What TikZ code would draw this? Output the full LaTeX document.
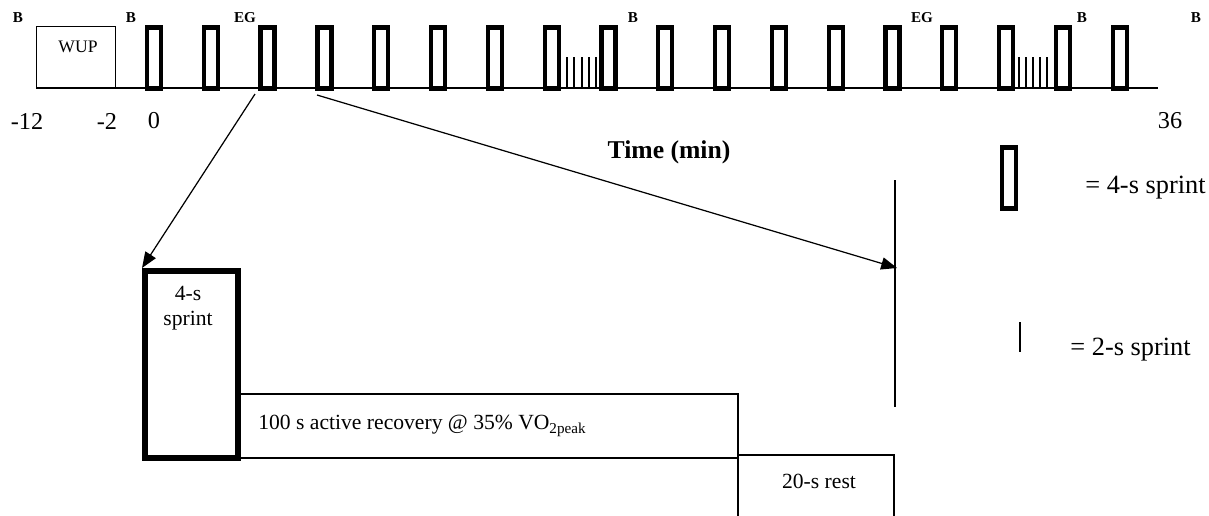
\documentclass[tikz,border=0pt]{standalone}
\usepackage{fontspec}
\setmainfont{Liberation Serif}
\usetikzlibrary{arrows.meta}

\begin{document}
\begin{tikzpicture}[x=0.02cm,y=-0.02cm,
    sprint/.style={rectangle,draw,line width=2.4pt,minimum width=0.28cm,minimum height=1.22cm,inner sep=0pt},
    short/.style={line width=0.6pt},
    thin/.style={line width=0.7pt},
    lbl/.style={font=\fontsize{8.6}{9}\selectfont\bfseries,inner sep=0pt},
    num/.style={font=\fontsize{13.8}{15}\selectfont,inner sep=0pt},
    key/.style={font=\fontsize{15}{16}\selectfont,inner sep=0pt},
    txt/.style={font=\fontsize{12.3}{13}\selectfont,inner sep=0pt},
    arr/.style={-{Triangle[length=9pt,width=7pt]},line width=0.7pt}]
\useasboundingbox (0,0) rectangle (1209,515);
% time line
\coordinate (t0) at (36,88);
\coordinate (t1) at (1158,88);
\draw[thin] (t0) -- (t1);
\node[draw,thin,rectangle,minimum width=1.58cm,minimum height=1.22cm,inner sep=0pt,anchor=south west] (wup) at (36,88) {};
\node[font=\fontsize{10}{11}\selectfont,inner sep=0pt] (wuptxt) at (78,47) {WUP};
\foreach \i in {0,...,17}
  \node[sprint,fill=white] (s\i) at (154+56.8*\i,58) {};
% 2-s sprints
\foreach \x in {567,574,582,589,596,1019,1026,1033,1040,1047}
  \draw[short] (\x,88) -- (\x,57);
% labels over the time line
\node[lbl] (b1) at (18,18) {B};
\node[lbl] (b2) at (131,18) {B};
\node[lbl] (eg1) at (245,18) {EG};
\node[lbl] (b3) at (633,18) {B};
\node[lbl] (eg2) at (922,18) {EG};
\node[lbl] (b4) at (1082,18) {B};
\node[lbl] (b5) at (1196,18) {B};
\node[num] (n1) at (27,121) {-12};
\node[num] (n2) at (107,121) {-2};
\node[num] (n3) at (154,121) {0};
\node[num] (n4) at (1170,121) {36};
\node[font=\fontsize{14.6}{16}\selectfont\bfseries,inner sep=0pt] (time) at (669,152) {Time (min)};
% one sprint + recovery
\node[rectangle,draw,line width=3.4pt,minimum width=1.86cm,minimum height=3.74cm,inner sep=0pt,anchor=north west] (big) at (142,268) {};
\node[txt,align=center] (bigtxt) at (188,308) {4-s\\[1pt]sprint};
\draw[thin] (big.east |- 0,394) -- (738,394) -- (738,458) -- (big.east |- 0,458);
\node[txt,anchor=west] (rec) at (258,426) {100 s active recovery @ 35\% VO\textsubscript{2peak}};
\draw[thin] (738,520) -- (738,455) -- (894,455) -- (894,520);
\node[txt] (rest) at (819,481) {20-s rest};
\coordinate (vtop) at (895,180);
\coordinate (vbot) at (895,407);
\coordinate (vmid) at (897,268);
\draw[thin] (vtop) -- (vbot);
% arrows
\coordinate (a1) at (255,94);
\coordinate (a2) at (317,95);
\draw[arr] (a1) -- (big.north west);
\draw[arr] (a2) -- (vmid);
% legend
\node[sprint] (key1) at (1009,178) {};
\node[key,anchor=west] (key1txt) at (1085,188) {= 4-s sprint};
\coordinate (k2a) at (1020,322);
\coordinate (k2b) at (1020,352);
\draw[short] (k2a) -- (k2b);
\node[key,anchor=west] (key2txt) at (1070,350) {= 2-s sprint};
\end{tikzpicture}
\end{document}
